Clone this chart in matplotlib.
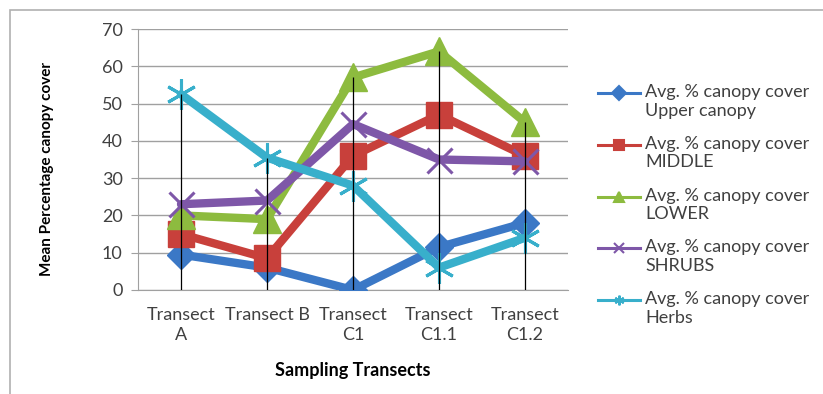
import matplotlib
matplotlib.use("Agg")
import matplotlib.pyplot as plt
from matplotlib.patches import Rectangle
from matplotlib.lines import Line2D

categories = ["Transect\nA", "Transect B", "Transect\nC1", "Transect\nC1.1", "Transect\nC1.2"]
upper = [9.5, 6, 0, 11.5, 18]
middle = [15, 8.5, 36, 47, 36]
lower = [20, 19, 57, 64, 45]
shrubs = [23, 24, 44.5, 35, 34.5]
herbs = [52.5, 35.5, 28, 6, 14]

label_top = "Avg. % canopy cover"
label_sub = ["Upper canopy", "MIDDLE", "LOWER", "SHRUBS", "Herbs"]
colors = ["#3B78C6", "#C8403B", "#8DBB3F", "#7E57A8", "#38AFCB"]
markers = ["D", "s", "^", "x", (6, 2, 0)]
msizes = [14, 19, 20, 18, 22]

plt.rcParams['font.family'] = ['Lato', 'DejaVu Sans']

W, H = 823, 394
fig = plt.figure(figsize=(W/100, H/100), dpi=100)
ax = fig.add_axes([138/W, (H-290)/H, (568-138)/W, (290-29)/H])

x = list(range(len(categories)))
series = [upper, middle, lower, shrubs, herbs]
tops = [max(s[i] for s in series) for i in x]
ax.vlines(x, 0, tops, color="black", lw=0.9, zorder=4)

for s, c, m, ms, sub in zip(series, colors, markers, msizes, label_sub):
    ax.plot(x, s, color=c, lw=6, marker=m, ms=ms, mec=c,
            mew=2.2 if m in ("x", (6, 2, 0)) else 1, zorder=3,
            label=label_top + "\n" + sub,
            solid_joinstyle="round", solid_capstyle="round")

ax.set_xlim(-0.5, 4.5)
ax.set_ylim(0, 70)
ax.set_yticks(range(0, 71, 10))
ax.set_xticks(x)
ax.set_xticklabels(categories, fontsize=13, color="#404040", linespacing=1.3, va="top")
ax.tick_params(axis="y", labelsize=13, labelcolor="#404040", length=5, color="#a0a0a0", pad=6)
ax.tick_params(axis="x", length=0, pad=12)
ax.yaxis.grid(True, color="#a0a0a0", lw=1)
ax.set_axisbelow(True)
for sp in ["top", "right"]:
    ax.spines[sp].set_visible(False)
for sp in ["left", "bottom"]:
    ax.spines[sp].set_color("#a0a0a0")

fig.text(47/W, 1 - 169/H, "Mean Percentage canopy cover", rotation=90, fontsize=11,
         fontweight="bold", ha="center", va="center")
ax.set_xlabel("Sampling Transects", fontsize=13, fontweight="bold", labelpad=14)

# legend (handle aligned with the first text line, as in the reference)
for i, (c, m, sub) in enumerate(zip(colors, markers, label_sub)):
    yc = 93 + 51.8 * i
    fig.add_artist(Line2D([598/W, 640/W], [1 - yc/H, 1 - yc/H], transform=fig.transFigure,
                          color=c, lw=2.2))
    fig.add_artist(Line2D([619/W], [1 - yc/H], transform=fig.transFigure, color=c,
                          marker=m, ms=7, mew=1.5, mec=c))
    fig.text(645/W, 1 - (yc - 9)/H, label_top + "\n" + sub, fontsize=13, color="#404040",
             ha="left", va="top", linespacing=1.2)

fig.patches.append(Rectangle((10/W, -0.05), 1.1, (H-10)/H + 0.05, transform=fig.transFigure,
                             fill=False, ec="#b0b0b0", lw=1.2))

fig.savefig("out.png", dpi=100)
